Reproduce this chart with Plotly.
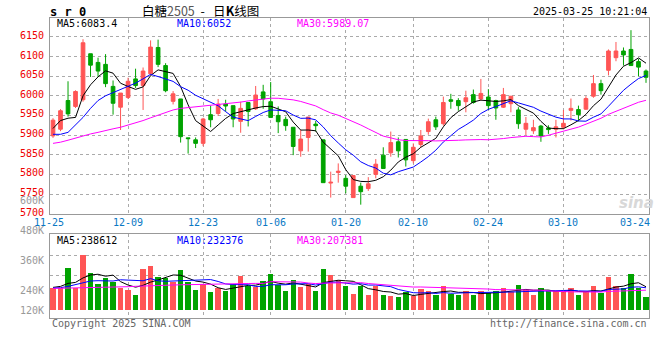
import plotly.graph_objects as go
import pandas as pd

W, H = 660, 360

dates = ["11-25","11-26","11-27","11-28","11-29",
         "12-02","12-03","12-04","12-05","12-06",
         "12-09","12-10","12-11","12-12","12-13",
         "12-16","12-17","12-18","12-19","12-20",
         "12-23","12-24","12-25","12-26","12-27",
         "12-30","12-31","01-02","01-03",
         "01-06","01-07","01-08","01-09","01-10",
         "01-13","01-14","01-15","01-16","01-17",
         "01-20","01-21","01-22","01-23","01-24","01-27",
         "02-05","02-06","02-07",
         "02-10","02-11","02-12","02-13","02-14",
         "02-17","02-18","02-19","02-20","02-21",
         "02-24","02-25","02-26","02-27","02-28",
         "03-03","03-04","03-05","03-06","03-07",
         "03-10","03-11","03-12","03-13","03-14",
         "03-17","03-18","03-19","03-20","03-21",
         "03-24","03-25"]

opens = [5898,5915,5988,5973,5990,6107,6085,6080,6024,5971,
         5996,6043,6026,6056,6123,6077,5986,5992,5893,5888,
         5879,5952,5955,5979,5975,5935,5983,5967,6010,5985,
         5950,5940,5920,5860,5894,5928,5888,5778,5805,5790,
         5741,5770,5764,5800,5849,5855,5883,5889,5835,5876,
         5909,5939,5929,5990,5988,5985,6003,5992,5997,5988,
         5971,5980,5964,5915,5911,5923,5918,5915,5920,5963,
         5965,5966,5999,6031,6065,6097,6114,6118,6087,6063]

closes = [5938,5962,5954,6011,6135,6078,6063,6031,5981,6007,
          6037,6026,6063,6124,6080,6013,6005,5896,5891,5879,
          5941,5939,5979,5974,5941,5968,5960,6002,5992,5945,
          5934,5924,5871,5890,5946,5924,5779,5780,5808,5770,
          5797,5756,5776,5826,5815,5881,5860,5837,5869,5898,
          5934,5921,5983,5986,5975,5995,5983,6006,5975,5969,
          6003,5999,5929,5930,5919,5898,5914,5921,5930,5968,
          5952,5993,6031,6013,6114,6114,6104,6077,6073,6047]

highs = [5943,5966,6037,6014,6144,6107,6097,6106,6039,6007,
         6046,6069,6072,6141,6143,6083,6012,5992,5893,5894,
         5944,5975,5992,5990,5975,5985,5983,6025,6028,6035,
         5973,5947,5920,5913,5946,5936,5888,5807,5828,5798,
         5798,5779,5793,5839,5869,5909,5894,5889,5879,5913,
         5942,5947,5998,6005,5994,6013,6016,6043,6017,5990,
         6020,5999,5971,5946,5939,5926,5925,5939,5964,5993,
         5975,5999,6053,6041,6118,6137,6123,6167,6094,6067]

lows = [5893,5910,5947,5969,5985,6048,6048,6022,5952,5913,
        5992,6020,5964,6052,6073,6009,5978,5881,5853,5867,
        5872,5920,5949,5960,5920,5906,5922,5964,5967,5945,
        5905,5911,5849,5845,5858,5909,5779,5741,5779,5752,
        5741,5723,5758,5790,5815,5845,5843,5820,5828,5869,
        5901,5913,5924,5967,5962,5958,5980,5988,5964,5939,
        5969,5958,5916,5900,5903,5883,5903,5894,5915,5937,
        5935,5964,5995,6003,6052,6088,6077,6077,6050,6033]

volumes = [223000,223000,420000,223000,550000,370000,260000,320000,280000,223000,
           200000,153000,413000,440000,330000,320000,283000,400000,280000,200000,
           267000,180000,223000,193000,267000,340000,243000,233000,290000,360000,
           250000,193000,300000,233000,267000,193000,413000,350000,300000,240000,
           167000,240000,157000,240000,157000,140000,133000,187000,140000,217000,
           197000,157000,247000,167000,150000,197000,150000,190000,173000,190000,
           227000,183000,257000,207000,150000,227000,190000,193000,193000,227000,
           157000,180000,247000,173000,337000,247000,223000,367000,223000,137000]

ma5_head = [5917, 5937, 5943, 5945]
ma10_head = [5902, 5902, 5907, 5925, 5945, 5968, 5988, 6000, 6008]
ma30_head = [5879,5882,5887,5893,5898,5903,5907,5912,5916,5920,5925,5931,5937,5944,5951,
             5958,5964,5968,5970,5972,5973,5975,5977,5980,5982,5984,5987,5989,5991]
vma5_head = [233000, 243000, 273000, 283000]
vma10_head = [227000, 230000, 243000, 260000, 283000, 297000, 300000, 300000, 297000]
vma30_head = [223000,224000,225000,227000,228000,229000,231000,233000,235000,237000,
              240000,244000,248000,250000,252000,254000,257000,259000,261000,264000,
              267000,268000,269000,270000,271000,272000,272000,273000,273000]

tick_labels = ["11-25","12-09","12-23","01-06","01-20","02-10","02-24","03-10","03-24"]
price_ticks = [5700,5750,5800,5850,5900,5950,6000,6050,6100,6150,6200]
vol_tick_labels = ["600K","480K","360K","240K","120K"]

ma_labels = ["MA5:6083.4", "MA10:6052", "MA30:5989.07"]
vol_ma_labels = ["MA5:238612", "MA10:232376", "MA30:207381"]

RED = "#FF5555"
GREEN = "#00A300"
MONO = "DejaVu Sans Mono"


def ma(series, n, head):
    s = pd.Series(series, dtype=float).rolling(n).mean().tolist()
    return list(head) + s[len(head):]


x = list(range(len(dates)))
ma5 = ma(closes, 5, ma5_head)
ma10 = ma(closes, 10, ma10_head)
ma30 = ma(closes, 30, ma30_head)
vma5 = ma(volumes, 5, vma5_head)
vma10 = ma(volumes, 10, vma10_head)
vma30 = ma(volumes, 30, vma30_head)
vcolors = [RED if c >= o else GREEN for o, c in zip(opens, closes)]

fig = go.Figure()
fig.add_trace(go.Candlestick(
    x=x, open=opens, high=highs, low=lows, close=closes,
    increasing=dict(line=dict(color=RED, width=1), fillcolor=RED),
    decreasing=dict(line=dict(color=GREEN, width=1), fillcolor=GREEN),
    whiskerwidth=0, xaxis="x", yaxis="y", hoverinfo="skip"))
for vals, col in [(ma5, "#000000"), (ma10, "#0000FF"), (ma30, "#FF00FF")]:
    fig.add_trace(go.Scatter(x=x, y=vals, mode="lines", line=dict(color=col, width=1),
                             xaxis="x", yaxis="y", hoverinfo="skip"))

fig.add_trace(go.Bar(x=x, y=volumes, marker=dict(color=vcolors, line=dict(width=0)),
                     width=0.72, xaxis="x2", yaxis="y2", hoverinfo="skip"))
for vals, col in [(vma5, "#000000"), (vma10, "#0000FF"), (vma30, "#FF00FF")]:
    fig.add_trace(go.Scatter(x=x, y=vals, mode="lines", line=dict(color=col, width=1),
                             xaxis="x2", yaxis="y2", hoverinfo="skip"))

grid_idx = [dates.index(t) for t in tick_labels[1:-1]]
xdom = [50 / W, 649 / W]
xr = [-0.4, 79.4]
axis_common = dict(showline=True, mirror=True, linecolor="#999999", linewidth=1,
                   showgrid=True, gridcolor="#AAAAAA", griddash="dot", gridwidth=1,
                   zeroline=False, showticklabels=False, ticks="", fixedrange=True)

fig.update_layout(
    width=W, height=H, margin=dict(l=0, r=0, t=0, b=0),
    paper_bgcolor="white", plot_bgcolor="white", showlegend=False,
    xaxis=dict(domain=xdom, range=xr, anchor="y", tickmode="array", tickvals=grid_idx,
               rangeslider=dict(visible=False), **axis_common),
    yaxis=dict(domain=[1 - 213.7 / H, 1 - 18 / H], range=[5700, 6198], anchor="x",
               tickmode="array", tickvals=price_ticks[1:-1], **axis_common),
    xaxis2=dict(domain=xdom, range=xr, anchor="y2", matches="x", tickmode="array",
                tickvals=grid_idx, **axis_common),
    yaxis2=dict(domain=[1 - 317.7 / H, 1 - 234.3 / H], range=[-70000, 764000], anchor="x2",
                tickmode="array", tickvals=[350000, 550000], **axis_common),
    bargap=0,
)

ann = []


def py(p):
    return 1 - p / H


def txt(text, xpx, ypx, color="#000000", size=10, anchor="left", family=MONO):
    ann.append(dict(text=text, x=xpx / W, y=py(ypx), xref="paper", yref="paper",
                    xanchor=anchor, yanchor="middle", showarrow=False,
                    font=dict(family=family, size=size, color=color)))


# header
txt("<b>s r 0</b>", 48, 11.5, size=12)
txt("白糖<span style='color:#555555'>2505</span>&nbsp;&nbsp;-&nbsp;&nbsp;&nbsp;日<b>K</b>线图",
    200, 10.5, size=12.5, anchor="center", family="Noto Sans CJK SC")
txt("2025-03-25 10:21:04", 649, 11.5, anchor="right")

# MA labels
for lab, xp, col in zip(ma_labels, [55, 175, 295], ["#000000", "#0000FF", "#FF00FF"]):
    txt(lab, xp, 23.5, color=col)
for lab, xp, col in zip(vol_ma_labels, [55, 175, 295], ["#000000", "#0000FF", "#FF00FF"]):
    txt(lab, xp, 240.5, color=col)

# price tick labels
for v in price_ticks:
    ann.append(dict(text=str(v), x=46 / W, y=v, xref="paper", yref="y", xanchor="right",
                    yanchor="middle", yshift=1.5, showarrow=False,
                    font=dict(family=MONO, size=10, color="#EE0000")))

# volume tick labels
for lab, yp in zip(vol_tick_labels, [200, 230.7, 260.7, 290, 310.7]):
    txt(lab, 46, yp, color="#999999", anchor="right")

# date labels
for t in tick_labels:
    i = dates.index(t)
    shift = -4 if i == 0 else (-3 if i == 78 else 0)
    ann.append(dict(text=t, x=i, y=py(222), xref="x", yref="paper", xanchor="center",
                    yanchor="middle", xshift=shift, showarrow=False,
                    font=dict(family=MONO, size=10, color="#0A78C4")))

# footer
txt("Copyright 2025 SINA.COM", 50, 323.5, color="#666666")
txt("http://finance.sina.com.cn", 649, 323.5, color="#666666", anchor="right")

# watermark
txt("<b><i>sina</i></b>", 636, 203, color="#D8D8D8", size=15, anchor="center",
    family="DejaVu Sans")

fig.update_layout(annotations=ann)
fig.write_html("out.html", config={"displayModeBar": False},
               post_script="document.body.style.margin='0';document.body.style.overflow='hidden';")
